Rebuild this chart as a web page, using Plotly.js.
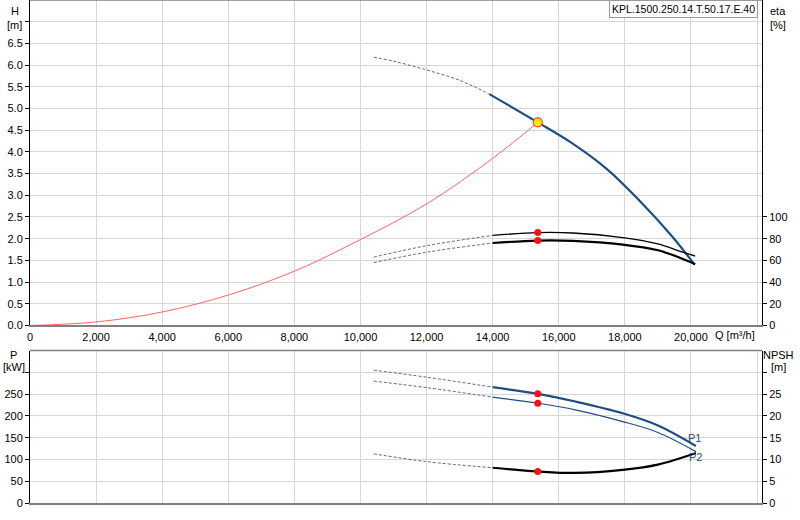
<!DOCTYPE html>
<html>
<head>
<meta charset="utf-8">
<script src="https://cdn.plot.ly/plotly-3.0.1.min.js"></script>
<style>
  html, body { margin: 0; padding: 0; background: #fff; }
  #chart { width: 800px; height: 520px; }
</style>
</head>
<body>
<div id="chart"></div>
<script>
// ===== Datos =====
const dutyQ = 15366;
const dutyH = 4.68;

// H (Q) – parte punteada y parte sólida
const hQDash = [10400, 11000, 11940, 13000, 13900];
const hDash = [6.18, 6.09, 5.90, 5.65, 5.33];
const hQSolid = [13900, 15366, 16423, 17432, 18438, 19445, 20100];
const hSolid = [5.33, 4.68, 4.19, 3.62, 2.88, 2.04, 1.41];

// curva del sistema
const sysQ = [0, 2000, 4000, 6000, 8000, 10000, 12000, 14000, 15366];
const sysH = [0, 0.08, 0.31, 0.70, 1.25, 1.98, 2.80, 3.85, 4.68];

// eta (Q)
const etaQDash = [10400, 12000, 14000];
const eta1Dash = [63, 73.5, 83];
const eta2Dash = [57.9, 67.5, 76];
const etaQSolid = [14000, 15366, 16423, 17935, 19000, 19700, 20130];
const eta1Solid = [83, 85.6, 85.2, 81, 75.2, 68, 64];
const eta2Solid = [76, 78.2, 77.9, 74.5, 69.3, 62, 56.5];
const dutyEta = [85.6, 78.2];

// P1, P2, NPSH (Q)
const pQDash = [10400, 12000, 14000];
const p1Dash = [305, 289, 266];
const p2Dash = [280, 265, 243];
const npshDash = [11.3, 9.5, 8.1];
const pQSolid = [14000, 15366, 16500, 17935, 19000, 20150];
const p1Solid = [266, 250.7, 233, 206, 178, 131];
const p2Solid = [243, 229, 214, 187, 162, 118];
const npshSolid = [8.1, 7.25, 6.9, 7.6, 8.8, 11.47];
const dutyP = [250.7, 229];
const dutyNpsh = 7.25;

const qTicks = [0, 2000, 4000, 6000, 8000, 10000, 12000, 14000, 16000, 18000, 20000, 22000];
const hTicks = [0, 0.5, 1, 1.5, 2, 2.5, 3, 3.5, 4, 4.5, 5, 5.5, 6, 6.5, 7];
const etaTicks = [0, 20, 40, 60, 80, 100];
const pTicks = [0, 50, 100, 150, 200, 250, 300];
const npshTicks = [0, 5, 10, 15, 20, 25, 30];

const COLORS = {
  blue: '#1f4e80',
  dash: '#55668a',
  sys: '#ff6464',
  red: '#ff1010',
  grid: '#d6d6d6',
  axis: '#808080',
};

const FONT = { family: 'Liberation Sans, Arial, sans-serif', size: 11, color: '#000' };

function dashLine(x, y, xa, ya) {
  return {
    x, y, xaxis: xa, yaxis: ya, type: 'scatter', mode: 'lines',
    line: { color: COLORS.dash, width: 1, dash: '3px,2px', shape: 'spline' },
    hoverinfo: 'skip',
  };
}

function solidLine(x, y, xa, ya, color, width) {
  return {
    x, y, xaxis: xa, yaxis: ya, type: 'scatter', mode: 'lines',
    line: { color, width, shape: 'spline' },
    hoverinfo: 'skip',
  };
}

function redDots(x, y, xa, ya) {
  return {
    x, y, xaxis: xa, yaxis: ya, type: 'scatter', mode: 'markers',
    marker: { color: COLORS.red, size: 7 },
    hoverinfo: 'skip',
  };
}

const traces = [
  solidLine(sysQ, sysH, 'x', 'y', COLORS.sys, 1),
  dashLine(hQDash, hDash, 'x', 'y'),
  solidLine(hQSolid, hSolid, 'x', 'y', COLORS.blue, 2.2),
  dashLine(etaQDash, eta1Dash, 'x', 'y2'),
  dashLine(etaQDash, eta2Dash, 'x', 'y2'),
  solidLine(etaQSolid, eta1Solid, 'x', 'y2', '#000', 1.3),
  solidLine(etaQSolid, eta2Solid, 'x', 'y2', '#000', 2.2),
  redDots([dutyQ, dutyQ], dutyEta, 'x', 'y2'),
  {
    x: [dutyQ], y: [dutyH], xaxis: 'x', yaxis: 'y', type: 'scatter', mode: 'markers',
    marker: { color: '#ffee00', size: 9, line: { color: '#ff4040', width: 1.2 } },
    hoverinfo: 'skip',
  },
  dashLine(pQDash, p1Dash, 'x2', 'y3'),
  dashLine(pQDash, p2Dash, 'x2', 'y3'),
  dashLine(pQDash, npshDash, 'x2', 'y4'),
  solidLine(pQSolid, p1Solid, 'x2', 'y3', COLORS.blue, 2.2),
  solidLine(pQSolid, p2Solid, 'x2', 'y3', COLORS.blue, 1.2),
  solidLine(pQSolid, npshSolid, 'x2', 'y4', '#000', 2.2),
  redDots([dutyQ, dutyQ], dutyP, 'x2', 'y3'),
  redDots([dutyQ], [dutyNpsh], 'x2', 'y4'),
];

const xBase = {
  range: [0, 22150],
  tickvals: qTicks,
  ticktext: qTicks.map(v => (v === 22000 ? '' : v.toLocaleString('en-US'))),
  gridcolor: COLORS.grid,
  showline: true, linecolor: COLORS.axis, linewidth: 2,
  ticks: '', zeroline: false,
  tickfont: FONT,
};

const yLeft = {
  showline: true, linecolor: '#000', linewidth: 1,
  ticks: 'outside', ticklen: 4, tickcolor: '#000',
  gridcolor: COLORS.grid, zeroline: false,
  tickfont: FONT,
};

const yRight = {
  side: 'right', showgrid: false,
  showline: true, linecolor: '#000', linewidth: 1,
  ticks: 'outside', ticklen: 4, tickcolor: '#000',
  zeroline: false,
  tickfont: FONT,
};

const labelFont = { ...FONT };

function lbl(text, x, y, anchor) {
  return {
    text, x, y, xref: 'paper', yref: 'paper', showarrow: false,
    xanchor: anchor || 'center', yanchor: 'middle', font: labelFont,
  };
}

const layout = {
  width: 800, height: 520,
  margin: { l: 30, r: 38, t: 0, b: 17 },
  paper_bgcolor: '#fff', plot_bgcolor: '#fff',
  showlegend: false,
  font: FONT,
  xaxis: { ...xBase, anchor: 'y' },
  yaxis: {
    ...yLeft, domain: [0.353, 1], range: [0, 7.5],
    tickvals: hTicks, ticktext: hTicks.map(v => (v === 7 ? '' : v.toFixed(1))),
  },
  yaxis2: {
    ...yRight, overlaying: 'y', anchor: 'x', range: [0, 300],
    tickvals: etaTicks,
  },
  xaxis2: { ...xBase, anchor: 'y3', showticklabels: false },
  yaxis3: {
    ...yLeft, domain: [0, 0.303], range: [0, 350], anchor: 'x2',
    tickvals: pTicks, ticktext: pTicks.map(v => (v === 300 ? '' : String(v))),
  },
  yaxis4: {
    ...yRight, overlaying: 'y3', anchor: 'x2', range: [0, 35],
    tickvals: npshTicks, ticktext: npshTicks.map(v => (v === 30 ? '' : String(v))),
  },
  shapes: [
    { type: 'line', xref: 'paper', yref: 'paper', x0: 0, x1: 1, y0: 1, y1: 1,
      line: { color: COLORS.axis, width: 1.5 } },
    { type: 'line', xref: 'paper', yref: 'paper', x0: 0, x1: 1, y0: 0.303, y1: 0.303,
      line: { color: COLORS.axis, width: 1.5 } },
  ],
  annotations: [
    lbl('H', -0.0205, 0.978),
    lbl('[m]', -0.0205, 0.951),
    lbl('eta', 1.0219, 0.978),
    lbl('[%]', 1.0219, 0.951),
    lbl('Q [m³/h]', 0.963, 0.334),
    lbl('P', -0.0219, 0.294),
    lbl('[kW]', -0.0219, 0.27),
    lbl('NPSH', 1.0232, 0.294),
    lbl('[m]', 1.0232, 0.27),
    {
      text: 'KPL.1500.250.14.T.50.17.E.40', xref: 'paper', yref: 'paper',
      x: 0.9945, y: 1, xanchor: 'right', yanchor: 'top', showarrow: false,
      font: { ...labelFont, size: 10.5 }, bgcolor: '#fff', bordercolor: '#999',
      borderwidth: 1, borderpad: 2,
    },
    {
      text: 'P1', xref: 'x2', yref: 'y3', x: 20100, y: 150, showarrow: false,
      font: { ...FONT, color: COLORS.blue },
    },
    {
      text: 'P2', xref: 'x2', yref: 'y3', x: 20150, y: 105.5, showarrow: false,
      font: { ...FONT, color: COLORS.blue },
    },
  ],
};

Plotly.newPlot('chart', traces, layout, { displayModeBar: false, responsive: false });
</script>
</body>
</html>
